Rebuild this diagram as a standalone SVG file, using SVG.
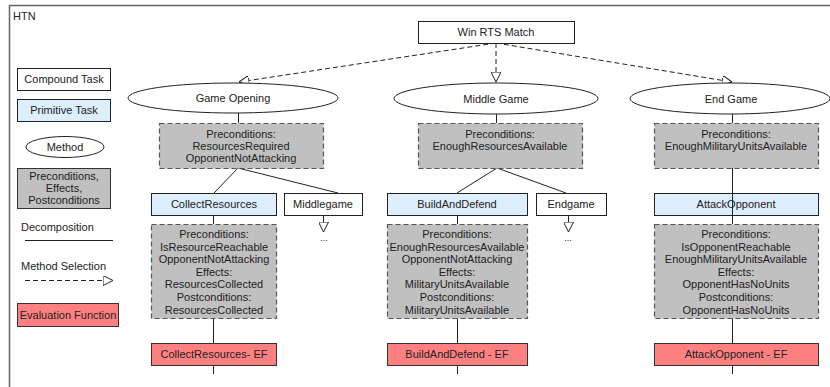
<svg xmlns="http://www.w3.org/2000/svg" width="830" height="387" viewBox="0 0 830 387">
  <style>
    text { font-family: "Liberation Sans", Arial, sans-serif; font-size: 11px; fill: #222; }
    .c { text-anchor: middle; }
    .compound { fill: #ffffff; stroke: #222; stroke-width: 1; }
    .primitive { fill: #ddeefc; stroke: #222; stroke-width: 1; }
    .method { fill: #ffffff; stroke: #222; stroke-width: 1; }
    .cond { fill: #c0c0c0; stroke: #555; stroke-width: 1.2; stroke-dasharray: 5 3; }
    .cond-solid { fill: #c0c0c0; stroke: #333; stroke-width: 1; }
    .ef { fill: #ff8080; stroke: #333; stroke-width: 1; }
    .dec { stroke: #222; stroke-width: 1; fill: none; }
    .sel { stroke: #222; stroke-width: 1; fill: none; stroke-dasharray: 5 3; }
  </style>
  <defs>
    <marker id="hollow" viewBox="0 0 10 10" refX="10" refY="5" markerWidth="10" markerHeight="10" markerUnits="userSpaceOnUse" orient="auto">
      <path d="M0,0 L10,5 L0,10 Z" fill="#fff" stroke="#222" stroke-width="1" stroke-dasharray="none"/>
    </marker>
  </defs>

  <!-- outer frame -->
  <path d="M9.5,387 V5.5 H830" fill="none" stroke="#666" stroke-width="1.5"/>
  <text x="13" y="20">HTN</text>

  <!-- legend -->
  <g id="legend">
    <rect class="compound" x="17.5" y="68.5" width="93" height="22"/>
    <text class="c" x="64" y="83">Compound Task</text>
    <rect class="primitive" x="17.5" y="99.5" width="93" height="22"/>
    <text class="c" x="64" y="114">Primitive Task</text>
    <ellipse class="method" cx="65" cy="147" rx="39" ry="10.5"/>
    <text class="c" x="65" y="151">Method</text>
    <rect class="cond-solid" x="17.5" y="168.5" width="93" height="40"/>
    <text class="c" x="64" y="180">Preconditions,</text>
    <text class="c" x="64" y="192">Effects,</text>
    <text class="c" x="64" y="204">Postconditions</text>
    <text x="21" y="231">Decomposition</text>
    <line class="dec" x1="25" y1="240.5" x2="113" y2="240.5"/>
    <text x="21" y="270">Method Selection</text>
    <line class="sel" x1="25" y1="280.5" x2="113" y2="280.5" marker-end="url(#hollow)"/>
    <rect class="ef" x="17.5" y="303.5" width="101" height="23"/>
    <text class="c" x="68" y="319">Evaluation Function</text>
  </g>

  <!-- connectors -->
  <g id="connectors">
    <line class="sel" x1="496" y1="43" x2="239" y2="82" marker-end="url(#hollow)"/>
    <line class="sel" x1="496" y1="43" x2="496" y2="82" marker-end="url(#hollow)"/>
    <line class="sel" x1="496" y1="43" x2="732" y2="82" marker-end="url(#hollow)"/>

    <line class="dec" x1="238.5" y1="113" x2="238.5" y2="123"/>
    <line class="dec" x1="496.5" y1="114" x2="496.5" y2="123"/>
    <line class="dec" x1="732.5" y1="114" x2="732.5" y2="123"/>

    <line class="dec" x1="238" y1="168" x2="214" y2="193"/>
    <line class="dec" x1="238" y1="168" x2="338" y2="193"/>
    <line class="dec" x1="497" y1="168" x2="457" y2="193"/>
    <line class="dec" x1="497" y1="168" x2="566" y2="193"/>

    <line class="dec" x1="213.5" y1="216" x2="213.5" y2="224"/>
    <line class="dec" x1="457.5" y1="216" x2="457.5" y2="224"/>

    <line class="dec" x1="323.5" y1="216" x2="323.5" y2="232" marker-end="url(#hollow)"/>
    <line class="dec" x1="568.5" y1="216" x2="568.5" y2="232" marker-end="url(#hollow)"/>

    <line class="dec" x1="213.5" y1="318" x2="213.5" y2="343"/>
    <line class="dec" x1="457.5" y1="318" x2="457.5" y2="343"/>
    <line class="dec" x1="732.5" y1="318" x2="732.5" y2="343"/>

    <line class="dec" x1="213.5" y1="365" x2="213.5" y2="374"/>
    <line class="dec" x1="457.5" y1="365" x2="457.5" y2="374"/>
    <line class="dec" x1="732.5" y1="365" x2="732.5" y2="374"/>
  </g>

  <!-- root task -->
  <g id="win-rts-match">
    <rect class="compound" x="418.5" y="21.5" width="156" height="22"/>
    <text class="c" x="496" y="36">Win RTS Match</text>
  </g>

  <!-- methods -->
  <g id="game-opening">
    <ellipse class="method" cx="233" cy="98" rx="105" ry="15"/>
    <text class="c" x="233" y="102">Game Opening</text>
  </g>
  <g id="middle-game">
    <ellipse class="method" cx="496" cy="98.5" rx="102" ry="15.5"/>
    <text class="c" x="496" y="102.5">Middle Game</text>
  </g>
  <g id="end-game">
    <ellipse class="method" cx="730" cy="98.5" rx="100" ry="15.5"/>
    <text class="c" x="731" y="102.5">End Game</text>
  </g>

  <!-- method preconditions -->
  <g id="game-opening-cond">
    <rect class="cond" x="159.5" y="123.5" width="164" height="45"/>
    <text class="c" x="241" y="138">Preconditions:</text>
    <text class="c" x="241" y="150">ResourcesRequired</text>
    <text class="c" x="241" y="162">OpponentNotAttacking</text>
  </g>
  <g id="middle-game-cond">
    <rect class="cond" x="418.5" y="123.5" width="164" height="45"/>
    <text class="c" x="500" y="138">Preconditions:</text>
    <text class="c" x="500" y="150">EnoughResourcesAvailable</text>
  </g>
  <g id="end-game-cond">
    <rect class="cond" x="654.5" y="123.5" width="164" height="45"/>
    <text class="c" x="736" y="138">Preconditions:</text>
    <text class="c" x="736" y="150">EnoughMilitaryUnitsAvailable</text>
  </g>

  <!-- subtasks -->
  <g id="collect-resources">
    <rect class="primitive" x="151.5" y="193.5" width="125" height="22"/>
    <text class="c" x="214" y="208">CollectResources</text>
  </g>
  <g id="middlegame">
    <rect class="compound" x="284.5" y="193.5" width="78" height="22"/>
    <text class="c" x="323" y="208">Middlegame</text>
    <text class="c" x="324" y="241" style="font-size:9px">...</text>
  </g>
  <g id="build-and-defend">
    <rect class="primitive" x="387.5" y="193.5" width="140" height="22"/>
    <text class="c" x="457" y="208">BuildAndDefend</text>
  </g>
  <g id="endgame">
    <rect class="compound" x="536.5" y="193.5" width="70" height="22"/>
    <text class="c" x="571" y="208">Endgame</text>
    <text class="c" x="568" y="241" style="font-size:9px">...</text>
  </g>
  <g id="attack-opponent">
    <rect class="primitive" x="654.5" y="193.5" width="164" height="22"/>
    <text class="c" x="736" y="208">AttackOpponent</text>
  </g>
  <!-- decomposition line drawn across the AttackOpponent task -->
  <line class="dec" x1="732.5" y1="168" x2="732.5" y2="224"/>

  <!-- task conditions -->
  <g id="collect-resources-cond">
    <rect class="cond" x="151.5" y="224.5" width="125" height="94"/>
    <text class="c" x="214" y="238">Preconditions:</text>
    <text class="c" x="214" y="250.6">IsResourceReachable</text>
    <text class="c" x="214" y="263.2">OpponentNotAttacking</text>
    <text class="c" x="214" y="275.8">Effects:</text>
    <text class="c" x="214" y="288.4">ResourcesCollected</text>
    <text class="c" x="214" y="301">Postconditions:</text>
    <text class="c" x="214" y="313.6">ResourcesCollected</text>
  </g>
  <g id="build-and-defend-cond">
    <rect class="cond" x="387.5" y="224.5" width="140" height="94"/>
    <text class="c" x="457" y="238">Preconditions:</text>
    <text class="c" x="457" y="250.6">EnoughResourcesAvailable</text>
    <text class="c" x="457" y="263.2">OpponentNotAttacking</text>
    <text class="c" x="457" y="275.8">Effects:</text>
    <text class="c" x="457" y="288.4">MilitaryUnitsAvailable</text>
    <text class="c" x="457" y="301">Postconditions:</text>
    <text class="c" x="457" y="313.6">MilitaryUnitsAvailable</text>
  </g>
  <g id="attack-opponent-cond">
    <rect class="cond" x="654.5" y="224.5" width="164" height="94"/>
    <text class="c" x="736" y="238">Preconditions:</text>
    <text class="c" x="736" y="250.6">IsOpponentReachable</text>
    <text class="c" x="736" y="263.2">EnoughMilitaryUnitsAvailable</text>
    <text class="c" x="736" y="275.8">Effects:</text>
    <text class="c" x="736" y="288.4">OpponentHasNoUnits</text>
    <text class="c" x="736" y="301">Postconditions:</text>
    <text class="c" x="736" y="313.6">OpponentHasNoUnits</text>
  </g>

  <!-- evaluation functions -->
  <g id="collect-resources-ef">
    <rect class="ef" x="151.5" y="343.5" width="125" height="22"/>
    <text class="c" x="214" y="358">CollectResources- EF</text>
  </g>
  <g id="build-and-defend-ef">
    <rect class="ef" x="387.5" y="343.5" width="140" height="22"/>
    <text class="c" x="457" y="358">BuildAndDefend - EF</text>
  </g>
  <g id="attack-opponent-ef">
    <rect class="ef" x="654.5" y="343.5" width="164" height="22"/>
    <text class="c" x="736" y="358">AttackOpponent - EF</text>
  </g>
</svg>
